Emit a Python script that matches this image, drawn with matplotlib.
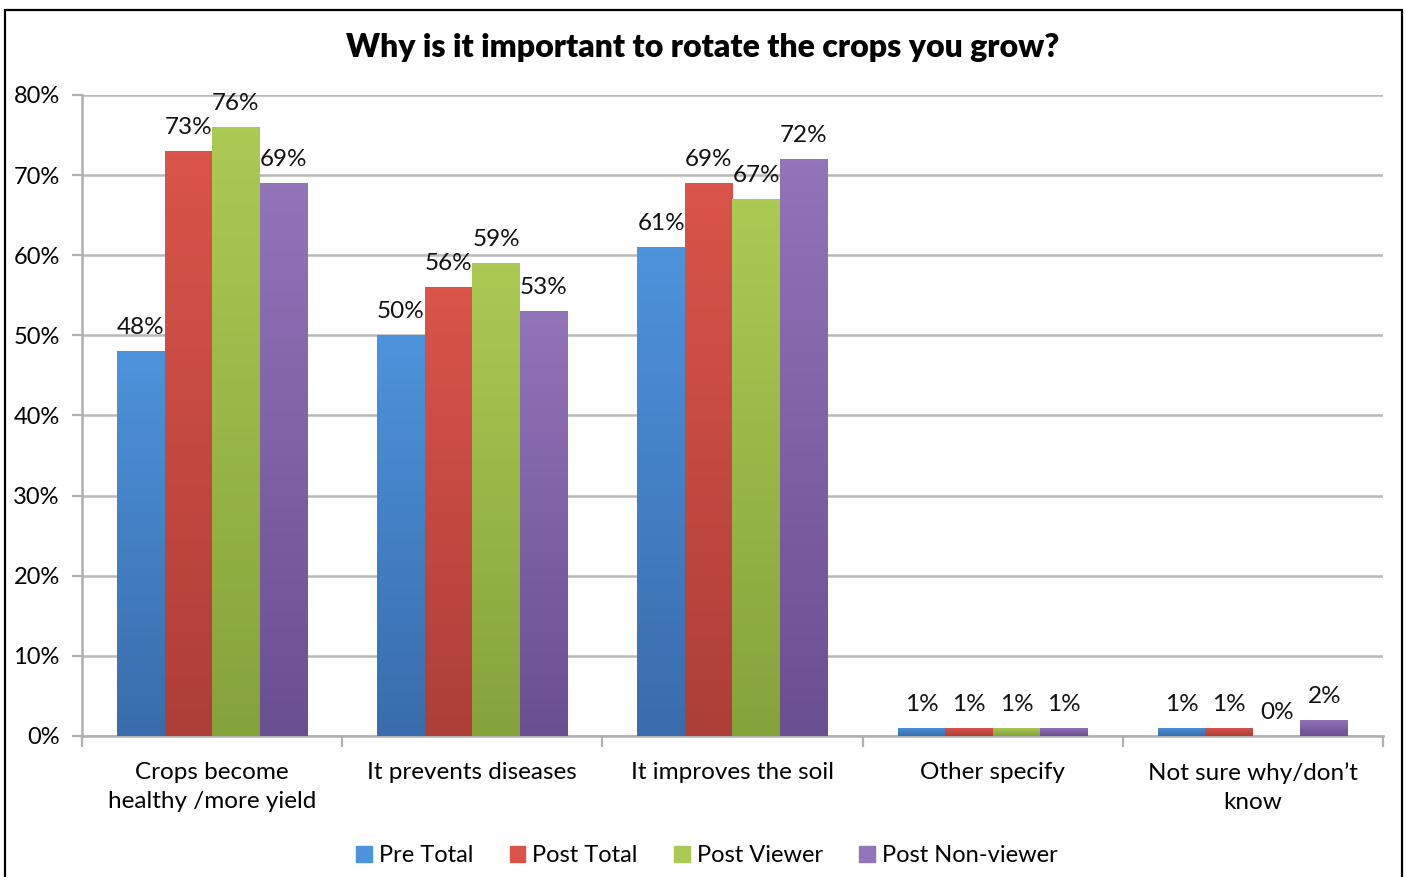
import numpy as np
import matplotlib
matplotlib.use("Agg")
import matplotlib.pyplot as plt
from matplotlib.colors import LinearSegmentedColormap
from matplotlib.patches import Patch, Rectangle

categories = ["Crops become\nhealthy /more yield", "It prevents diseases",
              "It improves the soil", "Other specify", "Not sure why/don\u2019t\nknow"]
series_names = ["Pre Total", "Post Total", "Post Viewer", "Post Non-viewer"]
pre_total = [48, 50, 61, 1, 1]
post_total = [73, 56, 69, 1, 1]
post_viewer = [76, 59, 67, 1, 0]
post_nonviewer = [69, 53, 72, 1, 2]
y_ticks = [0, 10, 20, 30, 40, 50, 60, 70, 80]

# (top colour, bottom colour) for the Excel-ish gradient
colors = [("#4d93dc", "#3a6cab"),
          ("#da544a", "#ad3f38"),
          ("#abca54", "#85a33b"),
          ("#9373ba", "#6a4f91")]

plt.rcParams["font.family"] = ["Lato", "DejaVu Sans"]

fig = plt.figure(figsize=(14.06, 8.77), dpi=100)
ax = fig.add_axes([82 / 1406, 1 - 736 / 877, 1301 / 1406, 641 / 877])

x = np.arange(len(categories))
w = 0.1827
all_series = [pre_total, post_total, post_viewer, post_nonviewer]

for i, (vals, (c_top, c_bot)) in enumerate(zip(all_series, colors)):
    xs = x + (i - 1.5) * w
    bars = ax.bar(xs, vals, width=w, color=c_top, zorder=3, linewidth=0)
    cmap = LinearSegmentedColormap.from_list("g%d" % i, [c_bot, c_top])
    grad = np.linspace(0, 1, 128).reshape(-1, 1)
    for b, v in zip(bars, vals):
        if v <= 0:
            continue
        im = ax.imshow(grad, cmap=cmap, origin="lower", aspect="auto",
                       extent=(b.get_x(), b.get_x() + b.get_width(), 0, v),
                       zorder=3.5)
        im.set_clip_path(b)
    for xi, v in zip(xs, vals):
        ax.annotate(f"{v}%", (xi, v), xytext=(0, 17), textcoords="offset points",
                    ha="center", va="center", fontsize=17.5, color="#111111", zorder=5)

ax.set_xlim(-0.5, len(categories) - 0.5)
ax.set_ylim(0, 80)
ax.set_yticks(y_ticks)
ax.set_yticklabels([f"{t}%" for t in y_ticks])
ax.set_xticks(x)
ax.set_xticklabels(categories, fontsize=17.5, linespacing=1.45)
ax.set_xticks(np.arange(-0.5, len(categories)), minor=True)
ax.tick_params(axis="x", which="major", length=0, pad=19)
ax.tick_params(axis="x", which="minor", length=8, width=1.6, color="#b0b0b0")
ax.tick_params(axis="y", length=7, width=1.6, color="#b0b0b0", labelsize=17, pad=9)

ax.grid(axis="y", color="#b9b9b9", linewidth=1.8, zorder=0)
ax.set_axisbelow(True)
for s in ["top", "right"]:
    ax.spines[s].set_visible(False)
for s in ["left", "bottom"]:
    ax.spines[s].set_color("#b0b0b0")
    ax.spines[s].set_linewidth(1.8)

fig.text(703 / 1406, 1 - 48 / 877, "Why is it important to rotate the crops you grow?",
         ha="center", va="center", fontsize=23, fontweight="heavy")

handles = [Patch(color=c[0]) for c in colors]
fig.legend(handles, series_names, loc="center", ncol=4,
           bbox_to_anchor=(707 / 1406, 1 - 856 / 877), frameon=False,
           fontsize=17, handlelength=0.65, handleheight=0.65,
           handletextpad=0.3, columnspacing=1.55)

# chart frame
fig.patches.append(Rectangle((5 / 1406, -0.02), 1397 / 1406, 1.02 - 10 / 877,
                             transform=fig.transFigure, fill=False,
                             edgecolor="black", linewidth=1.6))

fig.savefig("out.png", dpi=100)
